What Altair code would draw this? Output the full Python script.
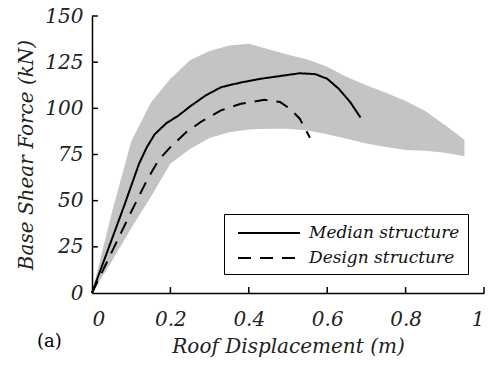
import altair as alt
import pandas as pd

# Gray band of pushover curves (upper / lower envelopes)
band_x = [0, 0.05, 0.1, 0.15, 0.2, 0.25, 0.3, 0.35, 0.4, 0.45, 0.5, 0.55, 0.6, 0.65, 0.7, 0.75, 0.8, 0.85, 0.9, 0.95]
band_upper = [0, 43, 82, 103, 116, 126, 131, 134, 135, 132, 129, 126.5, 122.5, 117, 112.5, 108.5, 104, 98.5, 91, 83]
band_lower = [0, 17, 35, 52, 70, 78, 84, 87, 88.5, 89, 89, 88, 86, 83.5, 81, 79, 77.5, 77, 76, 74]

# Median structure
med_x = [0, 0.04, 0.08, 0.12, 0.14, 0.16, 0.19, 0.22, 0.25, 0.29, 0.33, 0.38, 0.43, 0.48, 0.53, 0.57, 0.6, 0.63, 0.66, 0.685]
med_y = [0, 23, 46, 70, 79, 86, 92, 96, 101, 107, 111.5, 114, 116, 117.5, 119, 118.5, 116, 110.5, 103, 95]

# Design structure
des_x = [0, 0.05, 0.1, 0.14, 0.17, 0.2, 0.24, 0.28, 0.33, 0.38, 0.44, 0.48, 0.505, 0.53, 0.556]
des_y = [0, 22, 44, 61, 72, 79, 87, 93, 99, 102.5, 104.6, 103.4, 99.8, 94.4, 84.1]

series_names = ["Median structure", "Design structure"]
x_ticks = [0, 0.2, 0.4, 0.6, 0.8, 1.0]
y_ticks = [0, 25, 50, 75, 100, 125, 150]

FONT = "DejaVu Serif"

band_df = pd.DataFrame({"x": band_x, "upper": band_upper, "lower": band_lower})
lines_df = pd.concat([
    pd.DataFrame({"x": med_x, "y": med_y, "series": series_names[0], "order": range(len(med_x))}),
    pd.DataFrame({"x": des_x, "y": des_y, "series": series_names[1], "order": range(len(des_x))}),
])
xtick_df = pd.DataFrame({"x": x_ticks[1:], "y0": 0, "y1": 3.2})
ytick_df = pd.DataFrame({"y": y_ticks[1:], "x0": 0, "x1": 0.015})

xscale = alt.Scale(domain=[0, 1], nice=False, zero=False)
yscale = alt.Scale(domain=[0, 150], nice=False)
xax = alt.Axis(values=x_ticks, format="~g", title="Roof Displacement (m)", labelPadding=16,
               titlePadding=7)
yax = alt.Axis(values=y_ticks, title="Base Shear Force (kN)", labelPadding=9, titlePadding=8)

band = alt.Chart(band_df).mark_area(color="#c4c4c4", opacity=1).encode(
    x=alt.X("x:Q", scale=xscale, axis=xax),
    y=alt.Y("upper:Q", scale=yscale, axis=yax),
    y2="lower:Q",
)

legend = alt.Legend(
    title=None, orient="none", legendX=132, legendY=198,
    symbolType="M-0.5,0H5.7", symbolSize=400, symbolStrokeWidth=2,
    labelFont=FONT, labelFontSize=17, labelFontStyle="italic", labelColor="#111", labelLimit=400,
    labelOffset=55, strokeColor="black", fillColor="white", padding=8, rowPadding=6,
)

lines = alt.Chart(lines_df).mark_line(strokeWidth=2).encode(
    x=alt.X("x:Q", scale=xscale, axis=xax),
    y=alt.Y("y:Q", scale=yscale, axis=yax),
    order="order:Q",
    color=alt.Color("series:N", scale=alt.Scale(domain=series_names, range=["black", "black"]), legend=legend),
    strokeDash=alt.StrokeDash("series:N", scale=alt.Scale(domain=series_names, range=[[1, 0], [13, 9]]), legend=legend),
)

xticks = alt.Chart(xtick_df).mark_rule(color="black", strokeWidth=1.5).encode(
    x=alt.X("x:Q", scale=xscale, axis=xax),
    y=alt.Y("y0:Q", scale=yscale, axis=yax),
    y2="y1:Q",
)
yticks = alt.Chart(ytick_df).mark_rule(color="black", strokeWidth=1.5).encode(
    y=alt.Y("y:Q", scale=yscale, axis=yax),
    x=alt.X("x0:Q", scale=xscale, axis=xax),
    x2="x1:Q",
)

chart = alt.layer(band, lines, xticks, yticks).properties(
    width=392, height=277,
    autosize=alt.AutoSizeParams(type="none"),
    padding={"left": 84, "top": 8, "right": 4, "bottom": 64},
    title=alt.TitleParams("(a)", orient="bottom", anchor="start", frame="group", font=FONT, fontSize=18,
                          fontWeight="normal", color="black", dx=-55, dy=-27),
).configure_axis(
    grid=False, ticks=False, tickSize=0,
    domainColor="black", domainWidth=1.5,
    labelFont=FONT, labelFontSize=20, labelFontStyle="italic", labelColor="#222",
    titleFont=FONT, titleFontSize=20, titleFontStyle="italic", titleFontWeight="normal", titleColor="#222",
).configure_view(stroke=None)

chart.save("out.html", embed_options={"renderer": "svg", "actions": False})
